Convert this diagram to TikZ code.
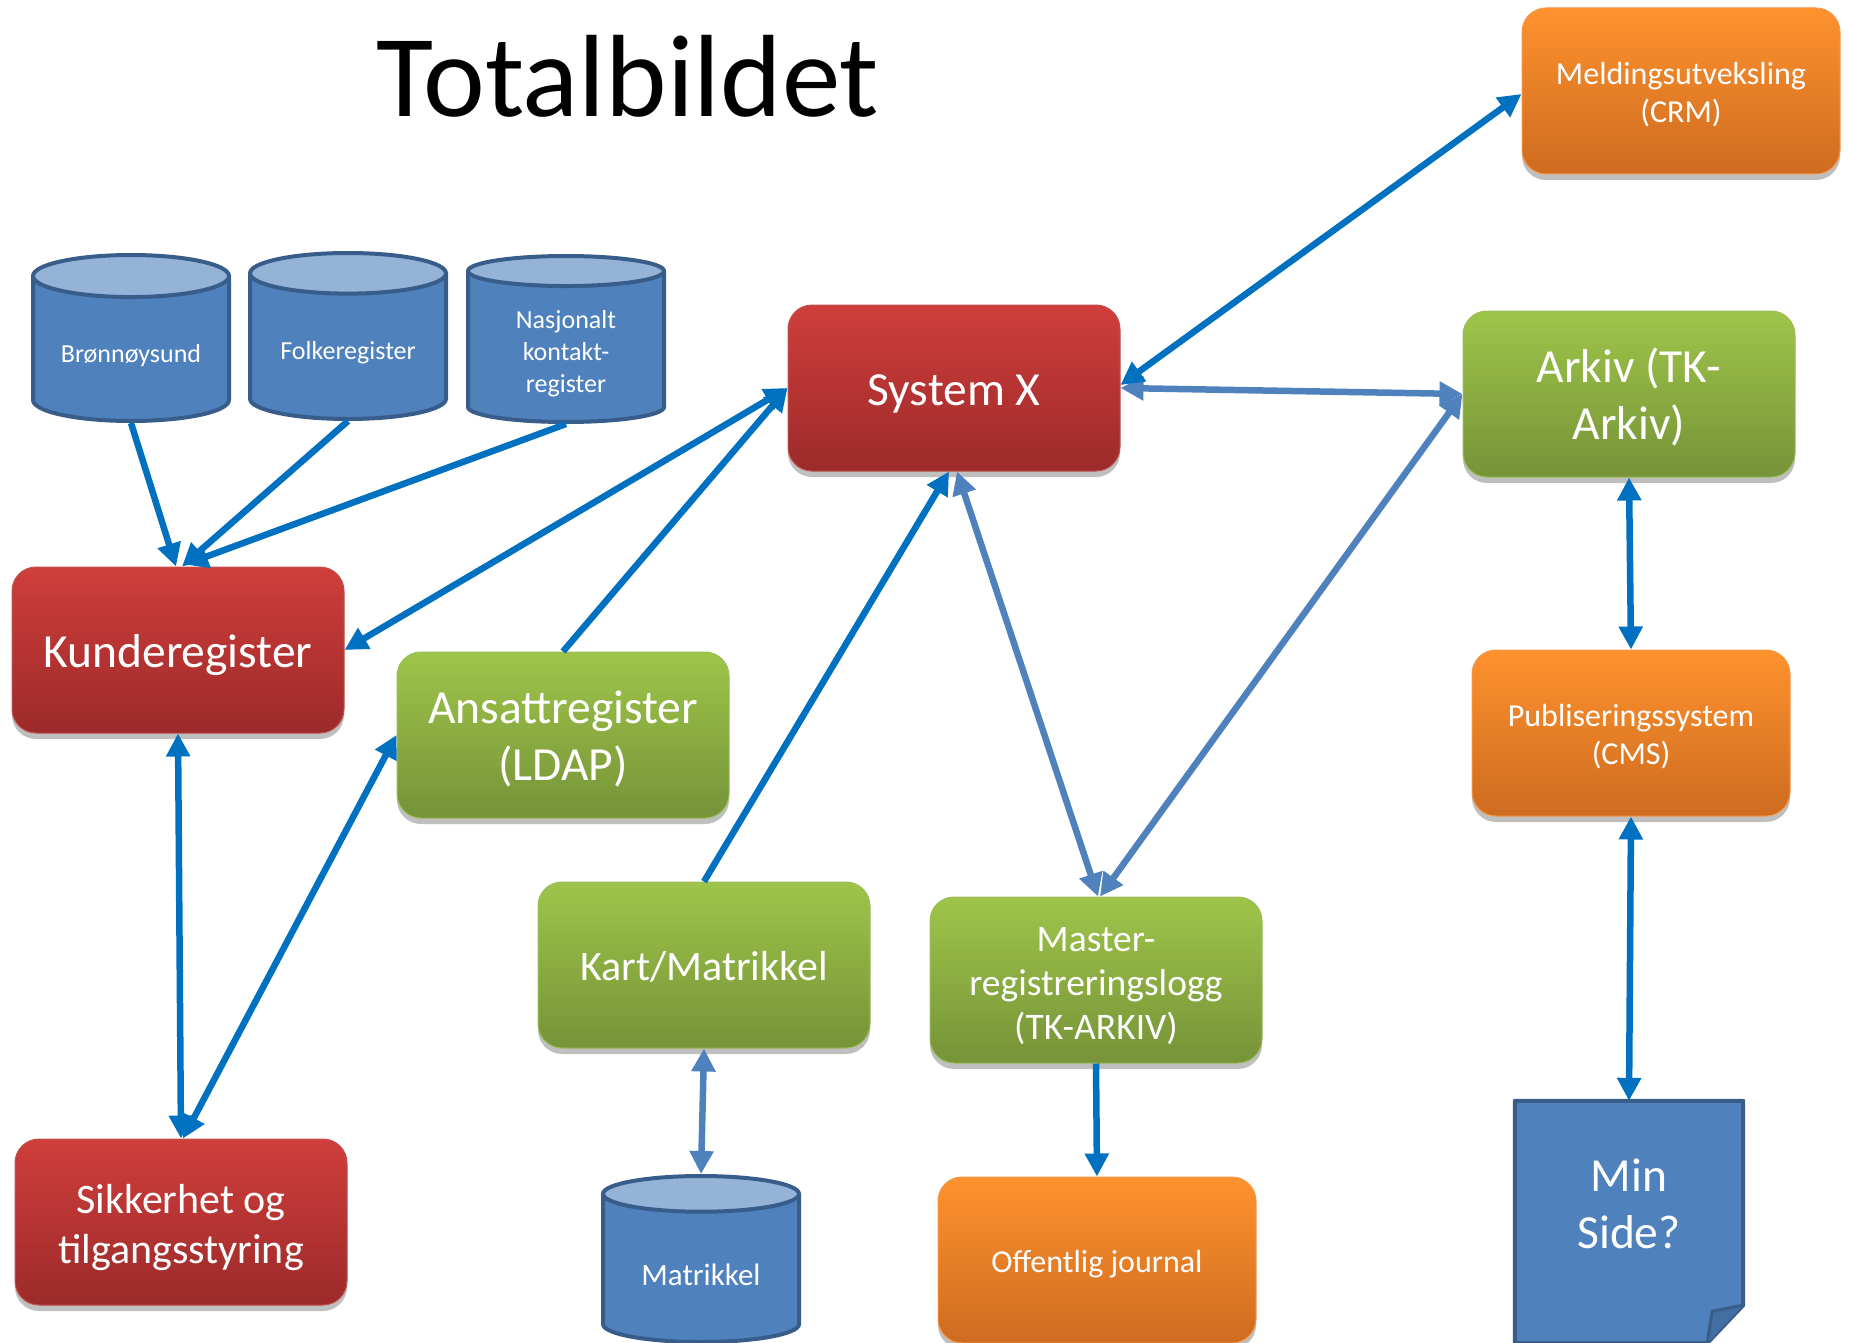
\documentclass[tikz,border=0pt]{standalone}
\usepackage{fontspec}
\setmainfont{Carlito}
\usetikzlibrary{arrows.meta,shapes.geometric,shadows,backgrounds}

\definecolor{redtop}{RGB}{207,62,59}
\definecolor{redbot}{RGB}{156,42,42}
\definecolor{redline}{RGB}{192,80,77}
\definecolor{greentop}{RGB}{158,197,74}
\definecolor{greenbot}{RGB}{118,147,56}
\definecolor{greenline}{RGB}{155,187,89}
\definecolor{orangetop}{RGB}{254,146,46}
\definecolor{orangebot}{RGB}{206,107,32}
\definecolor{orangeline}{RGB}{247,150,70}
\definecolor{dbbody}{RGB}{79,129,189}
\definecolor{dbtop}{RGB}{149,179,215}
\definecolor{dbline}{RGB}{56,93,138}
\definecolor{linkdark}{RGB}{0,112,192}
\definecolor{linklight}{RGB}{79,129,189}

\tikzset{
  lower/.style 2 args={execute at begin node={\rule{0pt}{\dimexpr#1\baselineskip+\fontcharht\font`d+#2\relax}}},
  box/.style={rounded corners=24pt, minimum width=332pt, minimum height=166pt,
    inner sep=0pt, align=center, text=white, line width=1pt,
    drop shadow={shadow xshift=0pt, shadow yshift=-6pt, opacity=0.25, fill=black}},
  redbox/.style={box, top color=redtop, bottom color=redbot, draw=redline},
  greenbox/.style={box, top color=greentop, bottom color=greenbot, draw=greenline},
  orangebox/.style={box, minimum width=318pt, top color=orangetop, bottom color=orangebot, draw=orangeline},
  db/.style={cylinder, shape border rotate=90, aspect=0.3, draw=dbline, line width=4pt,
    cylinder uses custom fill, cylinder body fill=dbbody, cylinder end fill=dbtop,
    minimum width=196pt, minimum height=166pt, inner sep=0pt, align=center, text=white, lower={0}{12pt}},
  big/.style={font=\fontsize{47.5}{57}\selectfont},
  mid/.style={font=\fontsize{42}{50}\selectfont},
  small/.style={font=\fontsize{32}{38}\selectfont},
  tiny/.style={font=\fontsize{26}{32}\selectfont},
  dk/.style={draw=linkdark, line width=6.5pt},
  lt/.style={draw=linklight, line width=6.5pt}
}

\begin{document}
\begin{tikzpicture}[x=1pt, y=-1pt, >={Triangle[length=23pt,width=23pt]}]
\useasboundingbox (0,0) rectangle (1849,1343);

% title
\node (title) [anchor=base, font=\fontsize{117}{130}\selectfont] at (628,117) {Totalbildet};

% registers
\node (bronn) [db, tiny, anchor=south] at (131,423) {Brønnøysund};
\node (folke) [db, tiny, anchor=south] at (348,421) {Folkeregister};
\node (nasjon) [db, tiny, lower={2}{12pt}, anchor=south] at (566,424) {Nasjonalt\\kontakt-\\register};
\node (matr) [db, anchor=south, font=\fontsize{31}{37}\selectfont] at (701,1344) {Matrikkel};

% boxes
\node (crm) [orangebox, small, lower={1}{8pt}] at (1681,91) {Meldingsutveksling\\(CRM)};
\node (sysx) [redbox, big, lower={0}{10pt}] at (954,388) {System X};
\node (arkiv) [greenbox, big, lower={1}{8pt}] at (1629,394) {Arkiv (TK-\\Arkiv)};
\node (kunde) [redbox, big, lower={0}{10pt}] at (178,650) {Kunderegister};
\node (ansatt) [greenbox, big, lower={1}{8pt}] at (563,735) {Ansattregister\\(LDAP)};
\node (cms) [orangebox, small, lower={1}{8pt}] at (1631,733) {Publiseringssystem\\(CMS)};
\node (kart) [greenbox, mid, lower={0}{3pt}] at (704,965) {Kart/Matrikkel};
\node (master) [greenbox, font=\fontsize{37.5}{44}\selectfont, lower={2}{10pt}] at (1096,980) {Master-\\registreringslogg\\(TK-ARKIV)};
\node (sikker) [redbox, mid, lower={1}{12pt}] at (181,1222) {Sikkerhet og\\tilgangsstyring};
\node (journal) [orangebox, small, lower={0}{9pt}] at (1097,1260) {Offentlig journal};
\node (minside) [minimum width=228pt, minimum height=242pt, text=white, align=center, big,
  execute at end node={\rule[-36pt]{0pt}{0pt}}] at (1629,1222) {Min\\Side?};
\begin{scope}[on background layer]
\filldraw[fill=dbbody, draw=dbline, line width=4pt, line join=round]
  (minside.north west) -- (minside.north east) -- ([yshift=38pt]minside.south east)
  -- ([xshift=-36pt]minside.south east) -- (minside.south west) -- cycle;
\filldraw[fill=dbbody!85!black, draw=dbline, line width=3pt, line join=round]
  ([yshift=38pt]minside.south east) -- ([xshift=-31pt,yshift=32pt]minside.south east)
  -- ([xshift=-36pt]minside.south east);
\end{scope}

% links
\draw[dk, ->] (bronn.south) -- ([xshift=-2pt]kunde.north);
\draw[dk, ->] (folke.south) -- ([xshift=4pt]kunde.north);
\draw[dk, ->] (nasjon.south) -- ([xshift=7pt,yshift=2pt]kunde.north);
\draw[dk, <->] (kunde.east) -- (sysx.west);
\draw[dk, ->] (ansatt.north) -- (sysx.west);
\draw[dk, ->] (kart.north) -- ([xshift=-5pt]sysx.south);
\draw[lt, <->] ([xshift=3pt]sysx.south) -- ([xshift=2pt]master.north);
\draw[lt, <->] ([xshift=4pt]master.north) -- (arkiv.west);
\draw[lt, <->] (sysx.east) -- (arkiv.west);
\draw[dk, <->] ([yshift=3pt]sysx.east) -- ([yshift=-3pt]crm.west);
\draw[dk, <->] (arkiv.south) -- (cms.north);
\draw[dk, <->] (cms.south) -- (minside.north);
\draw[dk, ->] (master.south) -- (journal.north);
\draw[lt, <->] (kart.south) -- (matr.north);
\draw[dk, <->] (kunde.south) -- (sikker.north);
\draw[dk, <->] (ansatt.west) -- ([xshift=2pt]sikker.north);
\end{tikzpicture}
\end{document}
